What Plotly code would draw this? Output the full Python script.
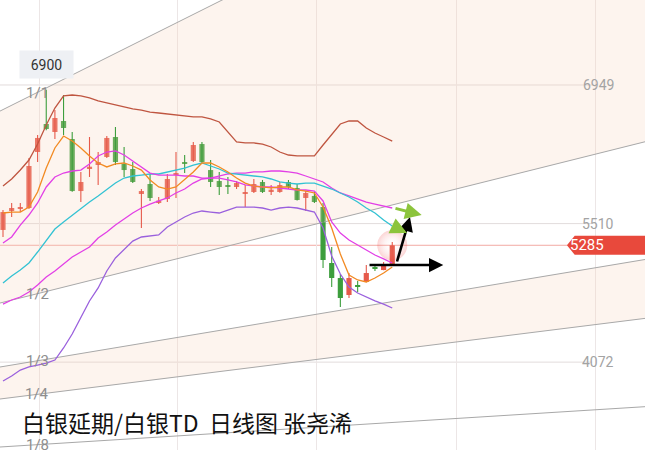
import plotly.graph_objects as go

# ---------------- data ----------------
idx = list(range(46))
opens = [5444, 5641, 5662, 5672, 6253, 6544, 6461, 6575, 6388, 5848, 6087, 6118, 6201, 6409, 6129, 6077,
         5817, 5921, 5734, 5765, 6014, 6139, 6160, 6336, 6066, 5952, 5900, 5890, 5817, 5838, 5942, 5848,
         5838, 5942, 5880, 5776, 5797, 5682, 5101, 4945, 4769, 4873, 4904, 5060, 5028, 5080]
highs = [5651, 5724, 5724, 6191, 6430, 6900, 6689, 6845, 6461, 6046, 6409, 6253, 6419, 6513, 6305, 6149,
         5869, 6025, 5786, 6025, 6253, 6222, 6357, 6357, 6170, 6046, 5994, 5952, 5911, 5973, 5963, 5911,
         5942, 5963, 5921, 5848, 5838, 5724, 5267, 4987, 4997, 4914, 5080, 5091, 5111, 5319]
lows = [5371, 5579, 5630, 5662, 6149, 6480, 6388, 6430, 5840, 5734, 5994, 5911, 6191, 6118, 5994, 5931,
        5464, 5745, 5713, 5734, 5776, 6035, 6149, 6139, 5890, 5807, 5817, 5869, 5682, 5828, 5828, 5807,
        5830, 5869, 5750, 5641, 5724, 5049, 4852, 4644, 4738, 4800, 4900, 5018, 5025, 5075]
closes = [5630, 5672, 5682, 6108, 6399, 6492, 6606, 6502, 5848, 5942, 6098, 6149, 6399, 6149, 6066, 5942,
          5848, 5776, 5745, 5973, 6035, 6129, 6326, 6149, 5942, 5890, 5895, 5931, 5838, 5921, 5838, 5859,
          5911, 5890, 5755, 5828, 5734, 5132, 4945, 4738, 4945, 4852, 4997, 5039, 5091, 5285]

upper_band = [5900, 5973, 6066, 6170, 6336, 6533, 6710, 6835, 6845, 6835, 6814, 6783, 6762, 6741, 6720, 6700,
              6689, 6668, 6658, 6648, 6637, 6627, 6617, 6617, 6596, 6565, 6461, 6357, 6347, 6347, 6336, 6305,
              6253, 6222, 6212, 6212, 6212, 6326, 6440, 6544, 6575, 6575, 6502, 6450, 6409, 6367]
ma_orange = [5620, 5630, 5630, 5682, 5838, 6087, 6295, 6419, 6367, 6295, 6212, 6139, 6098, 6129, 6139, 6108,
             6066, 5963, 5890, 5869, 5890, 5963, 6046, 6139, 6139, 6098, 6046, 5983, 5931, 5900, 5890, 5880,
             5890, 5890, 5859, 5848, 5828, 5682, 5464, 5194, 4976, 4925, 4904, 4945, 4997, 5060]
ma_cyan = [4893, 4966, 5028, 5101, 5215, 5340, 5454, 5527, 5599, 5662, 5734, 5797, 5869, 5931, 5983, 6004,
           6014, 6025, 6025, 6046, 6066, 6087, 6118, 6139, 6108, 6077, 6035, 6025, 6014, 6004, 5994, 5973,
           5942, 5931, 5921, 5931, 5931, 5900, 5869, 5828, 5786, 5734, 5672, 5620, 5547, 5485]
ma_magenta_fast = [5309, 5371, 5495, 5599, 5724, 5890, 5994, 6035, 6056, 6066, 6129, 6212, 6253, 6264, 6222, 6160,
                   6098, 6035, 6014, 6014, 6014, 6004, 6004, 5983, 5983, 5983, 5963, 5942, 5911, 5900, 5890, 5890,
                   5880, 5869, 5859, 5859, 5848, 5745, 5527, 5412, 5340, 5288, 5236, 5184, 5143, 5101]
ma_magenta_slow = [4675, 4717, 4748, 4800, 4873, 4956, 5018, 5091, 5163, 5215, 5267, 5361, 5423, 5495, 5558, 5620,
                   5672, 5713, 5745, 5776, 5828, 5869, 5931, 5973, 5983, 6004, 6025, 6035, 6035, 6046, 6046, 6056,
                   6056, 6046, 6035, 6004, 5973, 5942, 5880, 5828, 5797, 5765, 5734, 5713, 5693, 5672]
lower_band = [3876, 3928, 3990, 4022, 4042, 4063, 4094, 4219, 4364, 4530, 4707, 4842, 5018, 5153, 5246, 5329,
              5371, 5381, 5392, 5475, 5527, 5579, 5620, 5641, 5630, 5620, 5651, 5682, 5682, 5682, 5672, 5651,
              5672, 5682, 5672, 5651, 5630, 5464, 5174, 4987, 4852, 4790, 4748, 4707, 4675, 4634]

level_values = [6949, 5510, 4072]
level_labels = ["6949", "5510", "4072"]
last_price_label = "5285"
high_label = "6900"

# Gann fan: origin (bar index, price), 1/1 slope (price per bar) and ratios
FAN_X0 = -89.1
FAN_P0 = 2693
FAN_SLOPE = 44.9
fan_ratios = [1, 1 / 2, 1 / 3, 1 / 4, 1 / 8]
fan_labels = ["1/1", "1/2", "1/3", "1/4", "1/8"]

title_text = "白银延期/白银TD  日线图 张尧浠"

# ---------------- styles ----------------
RED = "#e65a4b"
GREEN = "#3d9e3d"
PEACH = "rgba(247,212,186,0.25)"
FAN_COLOR = "#a8a8a8"
X_RANGE = [-0.347, 74.22]
Y_RANGE = [3160, 7831]


def fan(ratio, x):
    return FAN_P0 + FAN_SLOPE * ratio * (x - FAN_X0)


fig = go.Figure()

xa, xb = -2, 77
# shaded fan bands
for r1, r2 in [(fan_ratios[0], fan_ratios[1]), (fan_ratios[2], fan_ratios[3])]:
    fig.add_trace(go.Scatter(
        x=[xa, xb, xb, xa], y=[fan(r1, xa), fan(r1, xb), fan(r2, xb), fan(r2, xa)],
        mode="lines", fill="toself", fillcolor=PEACH, line=dict(width=0), hoverinfo="skip"))

# fan lines
for r in fan_ratios:
    fig.add_trace(go.Scatter(x=[xa, xb], y=[fan(r, xa), fan(r, xb)], mode="lines",
                             line=dict(color=FAN_COLOR, width=1), hoverinfo="skip"))

# glow behind last candle
fig.add_trace(go.Scatter(
    x=[idx[-1]], y=[closes[-1]], mode="markers", hoverinfo="skip",
    marker=dict(size=30, color="rgba(240,60,60,0.22)", line=dict(width=0),
                gradient=dict(type="radial", color="rgba(255,255,255,0)"))))

# candles: wicks
for col, up in [(RED, True), (GREEN, False)]:
    wx, wy = [], []
    for i in idx:
        if (closes[i] >= opens[i]) == up:
            wx += [i, i, None]
            wy += [lows[i], highs[i], None]
    fig.add_trace(go.Scatter(x=wx, y=wy, mode="lines", line=dict(color=col, width=1.1),
                             hoverinfo="skip"))

# candles: bodies
bases = [min(o, c) for o, c in zip(opens, closes)]
heights = [max(abs(c - o), 14) for o, c in zip(opens, closes)]
colors = [RED if c >= o else GREEN for o, c in zip(opens, closes)]
fig.add_trace(go.Bar(x=idx, y=heights, base=bases, width=0.6,
                     marker=dict(color=colors, line=dict(width=0)), hoverinfo="skip"))

# indicator lines
for series, col in [(upper_band, "#bf5540"), (lower_band, "#9a60dd"), (ma_magenta_slow, "#e23fe6"),
                    (ma_cyan, "#33c2d3"), (ma_magenta_fast, "#e23fe6"), (ma_orange, "#f28a22")]:
    fig.add_trace(go.Scatter(x=idx, y=series, mode="lines", line=dict(color=col, width=1.3),
                             hoverinfo="skip"))

shapes = []
for v in level_values:
    shapes.append(dict(type="line", xref="paper", yref="y", x0=0, x1=0.918, y0=v, y1=v,
                       line=dict(color="#e2dcdc", width=1), layer="below"))
# last price line
lp = closes[-1]
shapes.append(dict(type="line", xref="paper", yref="y", x0=0, x1=0.88, y0=lp, y1=lp,
                   line=dict(color="#f2aaa3", width=1), layer="below"))
# price tag
shapes.append(dict(type="path", xref="paper", yref="y",
                   path=f"M 0.891,{lp+98} L 1.0,{lp+98} L 1.0,{lp-98} L 0.891,{lp-98} L 0.879,{lp} Z",
                   fillcolor="#e8493c", line=dict(width=0), layer="above"))

annotations = []
for v, t in zip(level_values, level_labels):
    annotations.append(dict(xref="paper", yref="y", x=0.955, y=v, text=t, showarrow=False,
                            font=dict(family="Roboto", size=14, color="#a3a3a3")))
annotations.append(dict(xref="paper", yref="y", x=0.939, y=lp, text=last_price_label, showarrow=False,
                        font=dict(family="Roboto", size=15, color="white")))
# high label
hi_i = highs.index(max(highs))
annotations.append(dict(xref="x", yref="y", x=idx[hi_i], y=highs[hi_i], yshift=25, text=high_label,
                        showarrow=False, bgcolor="#eef0f4", width=51, height=25,
                        font=dict(family="Roboto", size=14, color="#333333")))
# fan labels
for r, t in zip(fan_ratios, fan_labels):
    annotations.append(dict(xref="x", yref="y", x=3.93, y=fan(r, 3.93), text=t, showarrow=False,
                            font=dict(family="Roboto", size=15, color="#8e8e8e")))
# arrows
n = idx[-1]
arrows = [
    (n - 2.8, opens[-1], n + 5.9, opens[-1], "black", 2.6),
    (n + 0.5, 5101, n + 2.05, 5579, "black", 2.6),
    (n + 0.2, ma_magenta_slow[-1], n + 3.4, 5599, "#8cc43c", 3),
    (n + 0.0, ma_cyan[-1], n + 1.7, 5412, "#8cc43c", 3),
]
for tx, ty, hx, hy, col, w in arrows:
    annotations.append(dict(xref="x", yref="y", axref="x", ayref="y", x=hx, y=hy, ax=tx, ay=ty,
                            text="", showarrow=True, arrowhead=2, arrowsize=1.1, arrowwidth=w,
                            arrowcolor=col))
# title text
annotations.append(dict(xref="paper", yref="paper", x=20 / 645, y=1 - 422 / 450, xanchor="left",
                        yanchor="middle", text=title_text, showarrow=False,
                        font=dict(family="Noto Sans CJK SC", size=23, color="#111111")))

fig.update_layout(
    width=645, height=450, margin=dict(l=0, r=0, t=0, b=0),
    paper_bgcolor="white", plot_bgcolor="white", showlegend=False,
    shapes=shapes, annotations=annotations, hovermode=False,
    xaxis=dict(range=X_RANGE, showticklabels=False, ticks="", zeroline=False, showline=False,
               tickvals=[4.2, 20.2, 36.3, 52.4, 68.5], showgrid=True, gridcolor="#ece6e6"),
    yaxis=dict(range=Y_RANGE, showticklabels=False, ticks="", zeroline=False, showline=False,
               showgrid=False),
)

fig.write_html("out.html", config={"displayModeBar": False},
               post_script="document.body.style.margin='0';document.body.style.overflow='hidden';")
